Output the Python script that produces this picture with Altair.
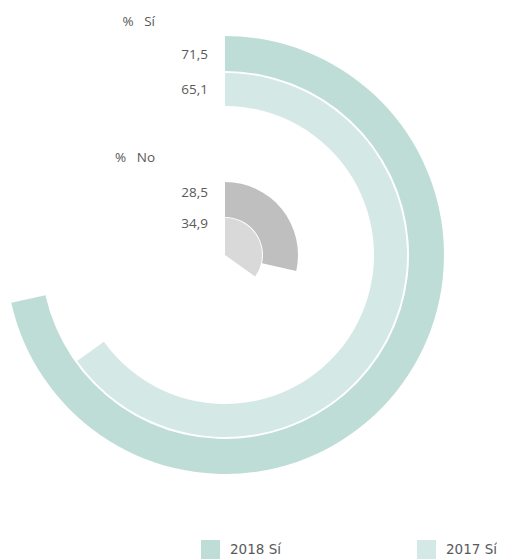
import math
import altair as alt
import pandas as pd

# ---- data ----
series = ["2018 Sí", "2017 Sí", "2018 No", "2017 No"]
values = [71.5, 65.1, 28.5, 34.9]
group_titles = ["%\u00a0\u00a0\u00a0Sí", "%\u00a0\u00a0\u00a0No"]
legend_series = ["2018 Sí", "2017 Sí"]
colors = ["#BFDDD7", "#D4E8E5", "#BFBFBF", "#D9D9D9"]

# ---- layout ----
CX, CY = 217, 247
r_out = [219, 182, 73, 37]
r_in = [184, 149, 38, 0]
label_y = [47, 82, 185, 216]
title_y = [14, 150]

df = pd.DataFrame({
    "series": series,
    "value": values,
    "zero": [0] * len(values),
    "r_out": r_out,
    "r_in": r_in,
    "label": [f"{v:.1f}".replace(".", ",") for v in values],
    "ly": label_y,
})
tdf = pd.DataFrame({"title": group_titles, "ty": title_y})

arcs = alt.Chart(df).mark_arc(stroke=None).encode(
    theta=alt.Theta("value:Q", scale=alt.Scale(domain=[0, 100], range=[0, 2 * math.pi]), stack=None),
    theta2="zero:Q",
    radius=alt.Radius("r_out:Q", scale=None),
    radius2="r_in:Q",
    x=alt.value(CX),
    y=alt.value(CY),
    color=alt.Color(
        "series:N",
        scale=alt.Scale(domain=series, range=colors),
        legend=alt.Legend(
            values=legend_series,
            title=None,
            orient="none",
            direction="horizontal",
            legendX=193,
            legendY=532,
            symbolType="square",
            symbolSize=361,
            symbolStrokeWidth=0,
            labelFont="DejaVu Sans",
            labelFontSize=13.5,
            labelColor="#595959",
            labelOffset=10,
            columnPadding=136,
        ),
    ),
)

labels = alt.Chart(df).mark_text(
    align="right", baseline="middle", font="Open Sans", fontSize=13.5, color="#595959"
).encode(
    x=alt.value(200),
    y=alt.Y("ly:Q", scale=None),
    text="label:N",
)

titles = alt.Chart(tdf).mark_text(
    align="right", baseline="middle", font="Open Sans", fontSize=13.5, color="#595959"
).encode(
    x=alt.value(147),
    y=alt.Y("ty:Q", scale=None),
    text="title:N",
)

chart = alt.layer(arcs, labels, titles).properties(
    width=489, height=551, padding=0, autosize="none"
).configure_view(stroke=None)

chart.save("out.html", embed_options={"renderer": "svg", "actions": False})
